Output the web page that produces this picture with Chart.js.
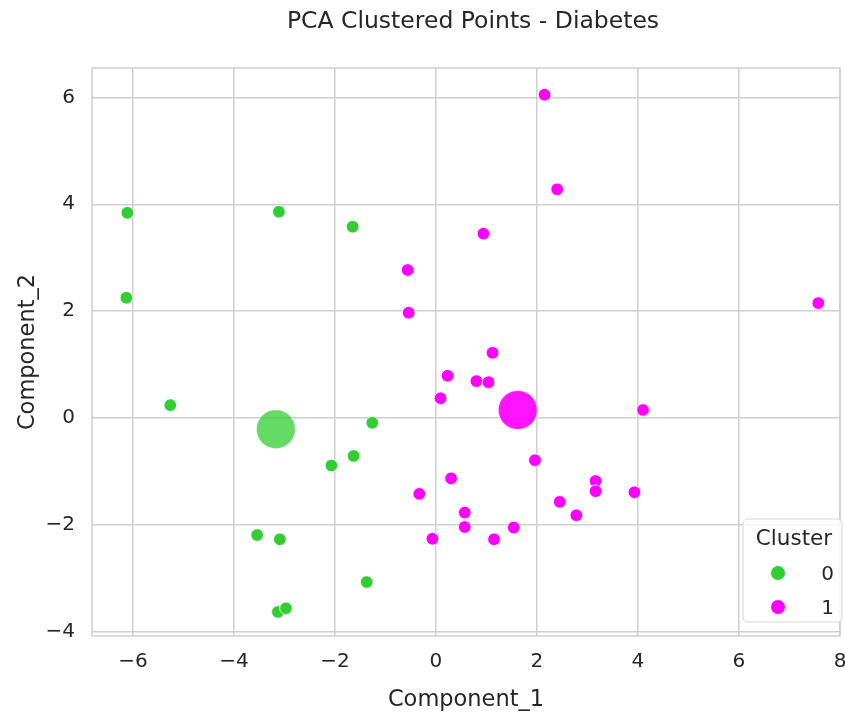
<!DOCTYPE html>
<html><head><meta charset="utf-8">
<script src="https://cdn.jsdelivr.net/npm/chart.js@4"></script>
<style>html,body{margin:0;padding:0;background:#fff}#wrap{width:845px;height:715px}</style>
</head><body><div id="wrap"><canvas id="c" width="845" height="715"></canvas></div>
<script>
const cluster0X = [-6.11, -6.13, -5.26, -3.11, -1.65, -1.26, -1.63, -2.07, -3.54, -3.09, -1.37, -3.13, -2.97];
const cluster0Y = [3.84, 2.25, 0.24, 3.86, 3.58, -0.09, -0.71, -0.89, -2.19, -2.27, -3.07, -3.63, -3.56];
const cluster1X = [2.15, 2.40, 0.94, -0.56, -0.54, 7.57, 1.12, 0.23, 0.80, 1.04, 0.09, 4.10, 1.96, 0.30, -0.33, 0.57, 0.57, -0.07, 1.15, 1.54, 2.45, 2.78, 3.16, 3.16, 3.93];
const cluster1Y = [6.05, 4.28, 3.45, 2.77, 1.97, 2.15, 1.22, 0.79, 0.69, 0.67, 0.37, 0.15, -0.79, -1.13, -1.42, -1.77, -2.04, -2.26, -2.27, -2.05, -1.57, -1.82, -1.18, -1.37, -1.39];
const centroidX = [-3.17, 1.62];
const centroidY = [-0.21, 0.15];
const clusterLabels = ["0", "1"];
const titleText = "PCA Clustered Points - Diabetes";
const legendTitle = "Cluster";
const xTitle = "Component_1";
const yTitle = "Component_2";

const FONT = "'DejaVu Sans', sans-serif";
const TXT = '#262626';
const GRID = '#cfcfcf';
const colors = ['#32CD32', '#FF00FF'];

const toPts = (xs, ys) => xs.map((x, i) => ({x, y: ys[i]}));

const framePlugin = {
  id: 'frame',
  afterDraw(chart) {
    const {ctx, chartArea: a} = chart;
    ctx.save();
    ctx.strokeStyle = GRID;
    ctx.lineWidth = 1.5;
    ctx.strokeRect(a.left, a.top, a.right - a.left, a.bottom - a.top);
    // title centred over the axes
    ctx.fillStyle = TXT;
    ctx.font = "23.5px " + FONT;
    ctx.textAlign = 'center'; ctx.textBaseline = 'alphabetic';
    ctx.fillText(titleText, (a.left + a.right) / 2 + 7, 28);
    // legend
    const bx = 743, by = 519, bw = 99, bh = 103, r = 5;
    ctx.fillStyle = 'rgba(255,255,255,0.85)';
    ctx.strokeStyle = '#d6d6d6';
    ctx.lineWidth = 1;
    ctx.beginPath();
    ctx.moveTo(bx + r, by);
    ctx.lineTo(bx + bw - r, by); ctx.quadraticCurveTo(bx + bw, by, bx + bw, by + r);
    ctx.lineTo(bx + bw, by + bh - r); ctx.quadraticCurveTo(bx + bw, by + bh, bx + bw - r, by + bh);
    ctx.lineTo(bx + r, by + bh); ctx.quadraticCurveTo(bx, by + bh, bx, by + bh - r);
    ctx.lineTo(bx, by + r); ctx.quadraticCurveTo(bx, by, bx + r, by);
    ctx.closePath(); ctx.fill(); ctx.stroke();
    ctx.fillStyle = TXT;
    ctx.font = "21.5px " + FONT;
    ctx.textAlign = 'center';
    ctx.fillText(legendTitle, 794, 545);
    clusterLabels.forEach((lab, i) => {
      const y = 573 + i * 34;
      ctx.beginPath();
      ctx.arc(778, y, 7, 0, Math.PI * 2);
      ctx.fillStyle = colors[i]; ctx.fill();
      ctx.fillStyle = TXT;
      ctx.font = "20px " + FONT;
      ctx.textAlign = 'right';
      ctx.fillText(lab, 834, y + 7);
    });
    ctx.restore();
  }
};

new Chart(document.getElementById('c'), {
  type: 'scatter',
  data: {
    datasets: [
      {label: clusterLabels[0], data: toPts(cluster0X, cluster0Y), backgroundColor: colors[0], borderColor: '#ffffff', borderWidth: 0.8, pointRadius: 6.3, order: 2},
      {label: clusterLabels[1], data: toPts(cluster1X, cluster1Y), backgroundColor: colors[1], borderColor: '#ffffff', borderWidth: 0.8, pointRadius: 6.3, order: 2},
      {label: 'centroid0', data: [{x: centroidX[0], y: centroidY[0]}], backgroundColor: 'rgba(50,205,50,0.75)', borderColor: 'rgba(255,255,255,0.6)', borderWidth: 1, pointRadius: 19.5, order: 1},
      {label: 'centroid1', data: [{x: centroidX[1], y: centroidY[1]}], backgroundColor: 'rgba(255,0,255,0.92)', borderColor: 'rgba(255,255,255,0.6)', borderWidth: 1, pointRadius: 19.5, order: 1}
    ]
  },
  options: {
    responsive: false,
    animation: false,
    layout: {autoPadding: false, padding: {left: 0, right: 5, top: 68, bottom: 0}},
    plugins: {
      legend: {display: false},
      tooltip: {enabled: false},
      title: {display: false}
    },
    scales: {
      x: {
        type: 'linear', min: -6.81, max: 8,
        grid: {color: GRID, lineWidth: 1.5, drawTicks: false},
        border: {display: false},
        ticks: {stepSize: 2, includeBounds: false, color: TXT, padding: 14, font: {family: FONT, size: 20}, callback: v => String(v).replace('-', '\u2212')},
        title: {display: true, text: xTitle, color: TXT, font: {family: FONT, size: 22.5}, padding: {top: 0, bottom: 1}},
        afterFit(s) { s.height = 79; s.paddingLeft = 0; s.paddingRight = 0; }
      },
      y: {
        type: 'linear', min: -4.08, max: 6.55,
        grid: {color: GRID, lineWidth: 1.5, drawTicks: false},
        border: {display: false},
        ticks: {stepSize: 2, includeBounds: false, color: TXT, padding: 17, font: {family: FONT, size: 20}, callback: v => String(v).replace('-', '\u2212')},
        title: {display: true, text: yTitle, color: TXT, font: {family: FONT, size: 22.5}, padding: {top: 15, bottom: 0}},
        afterFit(s) { s.width = 92; s.paddingTop = 0; s.paddingBottom = 0; }
      }
    }
  },
  plugins: [framePlugin]
});
</script></body></html>
